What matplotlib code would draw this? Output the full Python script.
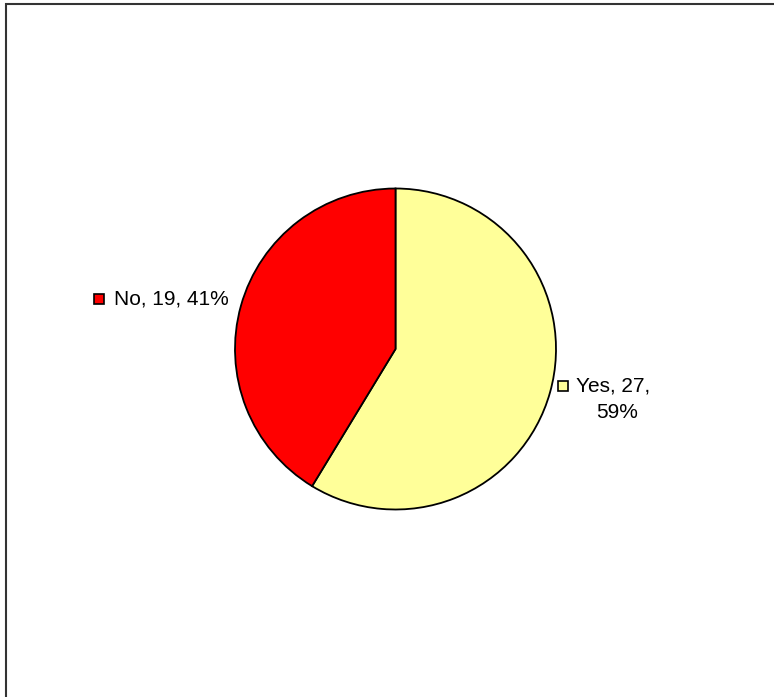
import matplotlib
matplotlib.use("Agg")
import matplotlib.pyplot as plt
from matplotlib.patches import Rectangle

labels = ["Yes", "No"]
values = [27, 19]
colors = ["#FFFF99", "#FF0000"]

W, H = 774, 697
fig = plt.figure(figsize=(W / 100, H / 100), dpi=100)
plt.rcParams['font.family'] = ['Liberation Sans', 'DejaVu Sans']

# chart border
fig.patches.append(Rectangle((5.5 / W, -0.1), 1.2, (H - 3.5) / H + 0.1, transform=fig.transFigure,
                             fill=False, edgecolor="#333333", linewidth=1.5))

cx, cy, r = 395.5, 349, 160.5
ax = fig.add_axes([(cx - r) / W, (H - cy - r) / H, 2 * r / W, 2 * r / H])
ax.pie(values, colors=colors, startangle=90, counterclock=False,
       wedgeprops=dict(edgecolor="black", linewidth=1.3))
ax.set_xlim(-1, 1)
ax.set_ylim(-1, 1)
ax.set_aspect("equal")
ax.axis("off")

total = sum(values)
pct = [round(v / total * 100) for v in values]

def key(x, y, color):
    s = 10
    fig.patches.append(Rectangle((x / W, (H - y - s / 2) / H), s / W, s / H, transform=fig.transFigure,
                                 facecolor=color, edgecolor="black", linewidth=1.2))

fs = 15
# No label
key(94, 299, colors[1])
fig.text(114 / W, (H - 299) / H, f"{labels[1]}, {values[1]}, {pct[1]}%", fontsize=fs,
         ha="left", va="center")
# Yes label
key(558, 386, colors[0])
fig.text(576 / W, (H - 386) / H, f"{labels[0]}, {values[0]},", fontsize=fs,
         ha="left", va="center")
fig.text(617 / W, (H - 412) / H, f"{pct[0]}%", fontsize=fs, ha="center", va="center")

fig.savefig("out.png", dpi=100)
